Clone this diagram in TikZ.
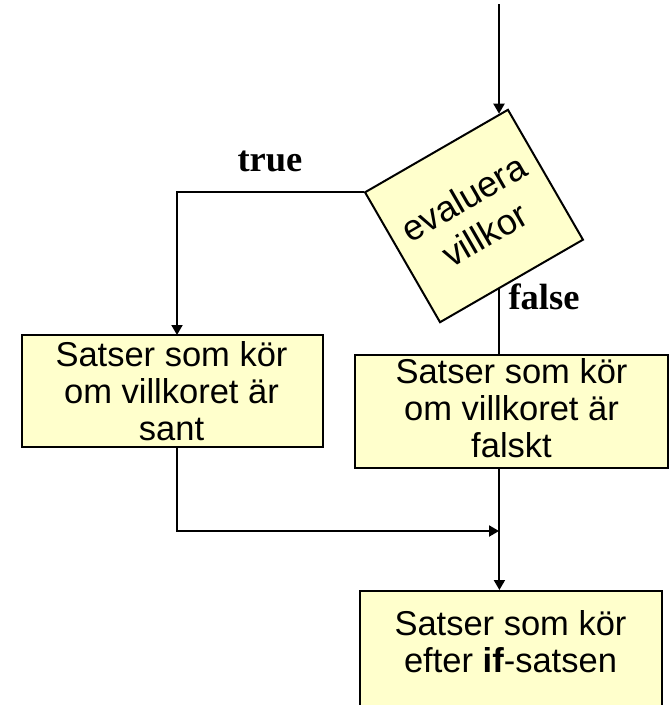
\documentclass[tikz,border=0pt]{standalone}
\usepackage{fontspec}
\setmainfont{Liberation Sans}
\newfontfamily\serifbold{Liberation Serif}
\usetikzlibrary{arrows.meta,calc}
\definecolor{boxfill}{RGB}{255,255,204}
\begin{document}
\begin{tikzpicture}[x=1pt,y=1pt,line width=2pt,
  boxst/.style={draw=black,fill=boxfill,line width=2pt,inner sep=0pt,rectangle},
  txt/.style={align=center,font=\fontsize{34.5}{37}\selectfont,inner sep=0pt},
  dtxt/.style={align=center,font=\fontsize{36}{42}\selectfont},
  lbl/.style={font=\serifbold\bfseries\fontsize{36.5}{38}\selectfont,inner sep=0pt,anchor=base},
  arr/.style={-{Triangle[length=10pt,width=11pt]}}]
\useasboundingbox (0,0) rectangle (671,-705);
\clip (0,0) rectangle (671,-705);
% decision
\node[boxst,minimum width=165pt,minimum height=150pt,rotate=30,dtxt] (d) at (474,-216) {evaluera\\villkor};
% boxes
\node[boxst,minimum width=301pt,minimum height=112pt] (b1) at (172.5,-391) {};
\node[boxst,minimum width=313pt,minimum height=113pt] (b2) at (511.5,-411.5) {};
\node[boxst,minimum width=302pt,minimum height=129pt] (b3) at (511,-655.5) {};
\node[txt] (t1) at (171.5,-391) {Satser som kör\\om villkoret är\\sant};
\node[txt] (t2) at (511.5,-408) {Satser som kör\\om villkoret är\\falskt};
\node[txt] (t3) at (510.5,-642) {Satser som kör\\efter \textbf{if}-satsen};
% labels
\node[lbl] (ltrue) at (270,-171) {true};
\node[lbl] (lfalse) at (544,-309) {false};
% connectors
\coordinate (in) at (499,-4);
\coordinate (dtop) at ($(d.north west)!0.937!(d.north east)$);
\coordinate (dbot) at ($(d.south west)!0.413!(d.south east)$);
\coordinate (b1in) at (177,-335);
\coordinate (join) at (499,-531);
\draw[arr] (in) -- (in |- dtop);
\draw[arr] (d.north west) -| (b1in);
\draw (dbot) -- (dbot |- b2.north);
\draw[arr] (b1in |- b1.south) |- (join);
\draw[arr] (dbot |- b2.south) -- (dbot |- b3.north);
\end{tikzpicture}
\end{document}
